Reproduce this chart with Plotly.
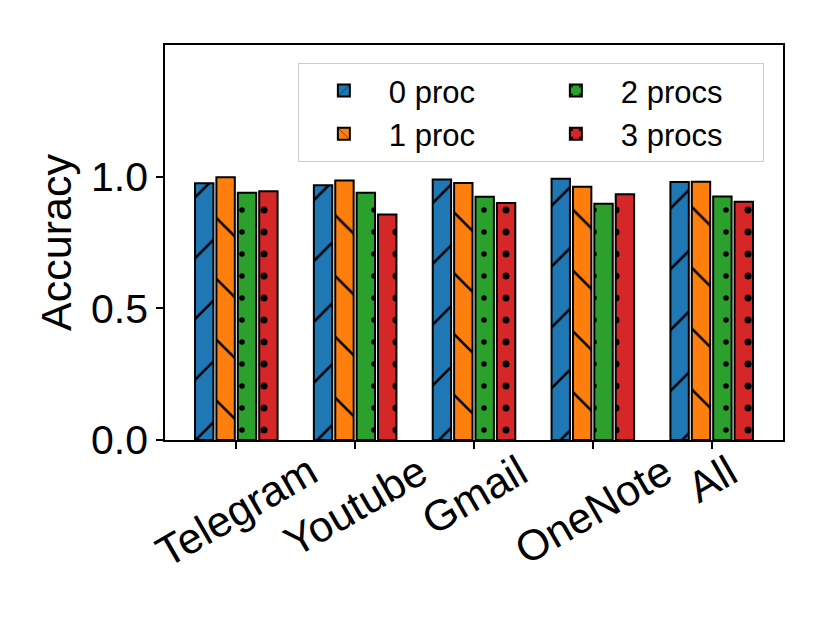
import plotly.graph_objects as go

# Apps on the x axis
apps = ["Telegram", "Youtube", "Gmail", "OneNote", "All"]

# Accuracy per number of background processes
acc_0proc = [0.975, 0.967, 0.989, 0.992, 0.980]
acc_1proc = [0.998, 0.985, 0.976, 0.962, 0.981]
acc_2procs = [0.939, 0.939, 0.924, 0.897, 0.925]
acc_3procs = [0.945, 0.856, 0.900, 0.933, 0.905]

y_ticks = [0.0, 0.5, 1.0]

FONT = "Liberation Sans, Arial, sans-serif"

series = [
    ("0 proc", acc_0proc, "#1f77b4", "/", 43, 0.06, 1),
    ("1 proc", acc_1proc, "#ff7f0e", "\\", 43, 0.06, 3),
    ("2 procs", acc_2procs, "#2ca02c", ".", 22, 0.05, 2),
    ("3 procs", acc_3procs, "#d62728", ".", 22, 0.08, 4),
]

x_pos = list(range(len(apps)))

fig = go.Figure()
for name, vals, color, shape, size, solid, rank in series:
    fig.add_trace(
        go.Bar(
            x=x_pos,
            y=vals,
            name=name,
            legendrank=rank,
            marker=dict(
                color=color,
                line=dict(color="black", width=2),
                pattern=dict(
                    shape=shape,
                    fgcolor="black",
                    fgopacity=1,
                    bgcolor=color,
                    size=size,
                    solidity=solid,
                ),
            ),
        )
    )

# rotated, centred category labels (matplotlib style)
for i, app in enumerate(apps):
    fig.add_annotation(
        x=i,
        y=-0.008,
        xref="x",
        yref="paper",
        text=app,
        textangle=-30,
        showarrow=False,
        xanchor="center",
        yanchor="top",
        font=dict(family=FONT, size=43, color="black"),
    )

# the page body has an 8px margin, so the figure is drawn 8px smaller
fig.update_layout(
    width=822,
    height=615,
    margin=dict(l=157, r=47, t=37, b=183),
    paper_bgcolor="white",
    plot_bgcolor="white",
    barmode="group",
    bargap=0.28,
    bargroupgap=0.14,
    font=dict(family=FONT, color="black"),
    showlegend=True,
    legend=dict(
        orientation="h",
        x=0.215,
        y=0.955,
        xanchor="left",
        yanchor="top",
        traceorder="normal",
        itemwidth=80,
        entrywidth=137,
        bgcolor="white",
        bordercolor="#cccccc",
        borderwidth=1,
        font=dict(family=FONT, size=31, color="black"),
    ),
)

fig.update_xaxes(
    range=[-0.6, 4.6],
    tickvals=x_pos,
    ticktext=[""] * len(apps),
    ticks="outside",
    ticklen=7,
    tickwidth=1.5,
    tickcolor="black",
    showline=True,
    linecolor="black",
    linewidth=1.5,
    mirror=True,
    showgrid=False,
    zeroline=False,
)

fig.update_yaxes(
    range=[0, 1.5],
    tickvals=y_ticks,
    tickformat=".1f",
    ticks="outside",
    ticklen=7,
    tickwidth=1.5,
    tickcolor="black",
    tickfont=dict(family=FONT, size=41, color="black"),
    showline=True,
    linecolor="black",
    linewidth=1.5,
    mirror=True,
    showgrid=False,
    zeroline=False,
    title=dict(text="Accuracy", font=dict(family=FONT, size=43, color="black"), standoff=6),
)

fig.write_html("out.html")
